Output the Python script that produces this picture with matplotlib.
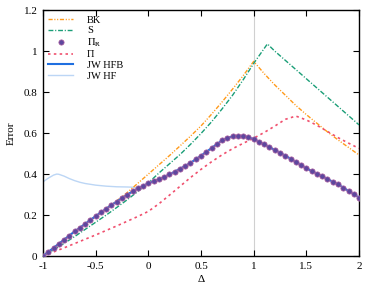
import numpy as np
import matplotlib
matplotlib.use("Agg")
import matplotlib.pyplot as plt

plt.rcParams['font.family'] = ['Liberation Serif', 'DejaVu Serif']
plt.rcParams['mathtext.fontset'] = 'stix'
plt.rcParams['axes.unicode_minus'] = False

# ---- data ----
bk_x = [-1.0, -0.9, -0.8, -0.7, -0.6, -0.5, -0.4, -0.3, -0.2, -0.1, 0.0, 0.1, 0.2, 0.3, 0.4, 0.5,
        0.6, 0.7, 0.8, 0.9, 1.0, 1.1, 1.2, 1.3, 1.4, 1.5, 1.6, 1.7, 1.8, 1.9, 2.0]
bk_y = [0.0, 0.04, 0.08, 0.12, 0.157, 0.195, 0.232, 0.27, 0.31, 0.355, 0.40, 0.445, 0.49, 0.537, 0.585,
        0.635, 0.692, 0.752, 0.815, 0.88, 0.95, 0.89, 0.835, 0.785, 0.735, 0.69, 0.648, 0.606, 0.567,
        0.53, 0.493]

s_x = [-1.0, -0.9, -0.8, -0.7, -0.6, -0.5, -0.4, -0.3, -0.2, -0.1, 0.0, 0.1, 0.2, 0.3, 0.4, 0.5,
       0.6, 0.7, 0.8, 0.9, 1.0, 1.13, 1.2, 1.3, 1.4, 1.5, 1.6, 1.7, 1.8, 1.9, 2.0]
s_y = [0.0, 0.03, 0.062, 0.095, 0.13, 0.165, 0.2, 0.237, 0.275, 0.315, 0.357, 0.405, 0.45, 0.495,
       0.545, 0.598, 0.655, 0.718, 0.785, 0.86, 0.94, 1.035, 1.0, 0.955, 0.91, 0.865, 0.82, 0.775,
       0.73, 0.685, 0.64]

pi_x = [-1.0, -0.9, -0.8, -0.7, -0.6, -0.5, -0.4, -0.3, -0.2, -0.1, 0.0, 0.1, 0.2, 0.3, 0.4, 0.5,
        0.6, 0.7, 0.8, 0.9, 1.0, 1.1, 1.2, 1.3, 1.4, 1.5, 1.6, 1.7, 1.8, 1.9, 2.0]
pi_y = [0.0, 0.02, 0.04, 0.061, 0.082, 0.103, 0.125, 0.147, 0.17, 0.193, 0.218, 0.255, 0.297, 0.34,
        0.383, 0.423, 0.46, 0.494, 0.524, 0.55, 0.575, 0.603, 0.634, 0.667, 0.683, 0.664, 0.638,
        0.608, 0.578, 0.551, 0.525]

hfb_x = [-1.0, -0.95, -0.9, -0.85, -0.8, -0.75, -0.7, -0.65, -0.6, -0.55, -0.5, -0.45, -0.4, -0.35,
         -0.3, -0.25, -0.2, -0.15, -0.1, -0.05, 0.0, 0.05, 0.1, 0.15, 0.2, 0.25, 0.3, 0.35, 0.4, 0.45,
         0.5, 0.55, 0.6, 0.65, 0.7, 0.75, 0.8, 0.85, 0.9, 0.95, 1.0, 1.05, 1.1, 1.15, 1.2, 1.25, 1.3,
         1.35, 1.4, 1.45, 1.5, 1.55, 1.6, 1.65, 1.7, 1.75, 1.8, 1.85, 1.9, 1.95, 2.0]
hfb_y = [0.0, 0.02, 0.04, 0.06, 0.08, 0.10, 0.12, 0.138, 0.157, 0.176, 0.195, 0.213, 0.231, 0.249,
         0.266, 0.283, 0.30, 0.315, 0.33, 0.343, 0.355, 0.365, 0.375, 0.386, 0.398, 0.412, 0.426,
         0.44, 0.455, 0.472, 0.49, 0.508, 0.527, 0.546, 0.564, 0.577, 0.584, 0.586, 0.585, 0.579,
         0.571, 0.558, 0.545, 0.531, 0.518, 0.504, 0.49, 0.475, 0.459, 0.444, 0.428, 0.415, 0.402,
         0.389, 0.376, 0.363, 0.35, 0.334, 0.318, 0.302, 0.285]

hf_x = [-1.0, -0.95, -0.9, -0.87, -0.85, -0.8, -0.75, -0.7, -0.65, -0.6, -0.55, -0.5, -0.4, -0.3,
        -0.2, -0.15, -0.1]
hf_y = [0.362, 0.38, 0.395, 0.40, 0.399, 0.39, 0.378, 0.368, 0.36, 0.354, 0.35, 0.346, 0.341, 0.338,
        0.337, 0.336, 0.333]

xticks = [-1, -0.5, 0, 0.5, 1, 1.5, 2]
xticklabels = ['-1', '-0.5', '0', '0.5', '1', '1.5', '2']
yticks = [0, 0.2, 0.4, 0.6, 0.8, 1.0, 1.2]
yticklabels = ['0', '0.2', '0.4', '0.6', '0.8', '1', '1.2']

# ---- plot ----
fig = plt.figure(figsize=(3.74, 2.89), dpi=100)
ax = fig.add_axes([0.115, 0.114, 0.845, 0.851])

ax.axvline(1.0, color='#d0d0d0', lw=0.8, zorder=1)

ax.plot(bk_x, bk_y, color='#ff9a1a', lw=1.0, dashes=[3, 1.2, 0.8, 1.2, 0.8, 1.2], label='BK', zorder=3)
ax.plot(s_x, s_y, color='#1a9e77', lw=1.0, dashes=[3.5, 1.3, 0.8, 1.3], label='S', zorder=3)
ax.plot(hfb_x, hfb_y, linestyle='none', marker='o', markersize=3.8, markerfacecolor='#5e479e',
        markeredgecolor='#b0609e', markeredgewidth=0.5, label=r'$\Pi_{\mathrm{R}}$', zorder=5)
ax.plot(pi_x, pi_y, color='#f0506e', lw=1.2, dashes=[1.5, 2.0], label='Π', zorder=3)
ax.plot(hfb_x, hfb_y, color='#1f6fe0', lw=1.5, label='JW HFB', zorder=4)
ax.plot(hf_x, hf_y, color='#bcd6f5', lw=1.0, label='JW HF', zorder=2)

ax.set_xlim(-1, 2)
ax.set_ylim(0, 1.2)
ax.set_xticks(xticks)
ax.set_xticklabels(xticklabels)
ax.set_yticks(yticks)
ax.set_yticklabels(yticklabels)
ax.tick_params(direction='in', top=True, right=True, length=4, width=0.8, labelsize=8, pad=4)
for sp in ax.spines.values():
    sp.set_linewidth(1.0)
ax.set_xlabel('Δ', fontsize=8, labelpad=3)
ax.set_ylabel('Error', fontsize=8, labelpad=6)

leg = ax.legend(loc='upper left', frameon=False, fontsize=7.5, handlelength=2.4, handletextpad=1.3,
                labelspacing=0.12, borderaxespad=0.15, borderpad=0.35)

fig.savefig('out.png', dpi=100)
